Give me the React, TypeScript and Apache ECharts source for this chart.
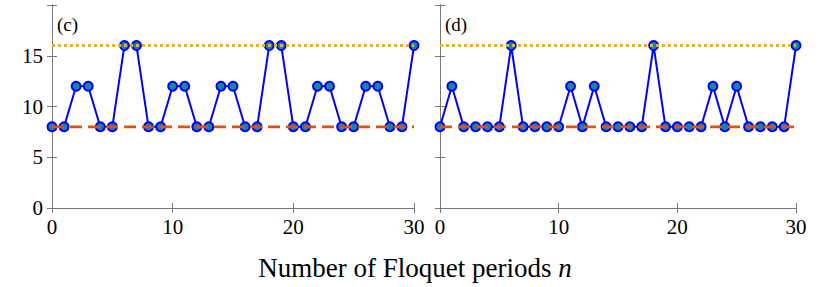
import React, { useEffect, useRef } from "react";
import * as echarts from "echarts";

const nValues = Array.from({ length: 31 }, (_, i) => i);
const seriesC = [8, 8, 12, 12, 8, 8, 16, 16, 8, 8, 12, 12, 8, 8, 12, 12, 8, 8, 16, 16, 8, 8, 12, 12, 8, 8, 12, 12, 8, 8, 16];
const seriesD = [8, 12, 8, 8, 8, 8, 16, 8, 8, 8, 8, 12, 8, 12, 8, 8, 8, 8, 16, 8, 8, 8, 8, 12, 8, 12, 8, 8, 8, 8, 16];
const lowerRef = 8;
const upperRef = 16;
const xTicks = [0, 10, 20, 30];
const yTicks = [0, 5, 10, 15];
const panelLabels = ["(c)", "(d)"];

const FONT = "Liberation Serif";
const AXIS_COLOR = "#777777";

export default function App() {
  const ref = useRef<HTMLDivElement>(null);
  useEffect(() => {
    if (!ref.current) return;
    const chart = echarts.init(ref.current, undefined, { renderer: "svg" });
    const grids = [
      { left: 52, top: 5, width: 362, height: 203 },
      { left: 440, top: 5, width: 356, height: 203 },
    ];
    const xAxes: any[] = [];
    const yAxes: any[] = [];
    grids.forEach((_, gi) => {
      xAxes.push({
        type: "value",
        gridIndex: gi,
        min: xTicks[0],
        max: xTicks[xTicks.length - 1],
        interval: 10,
        position: "bottom",
        axisLine: { show: true, lineStyle: { color: AXIS_COLOR, width: 1 } },
        axisTick: { show: true, inside: true, length: 5, lineStyle: { color: AXIS_COLOR } },
        splitLine: { show: false },
        axisLabel: { color: "#000", fontSize: 21, fontFamily: FONT, margin: 8 },
      });
      xAxes.push({
        type: "value",
        gridIndex: gi,
        min: xTicks[0],
        max: xTicks[xTicks.length - 1],
        interval: 10,
        position: "top",
        axisLine: { show: true, lineStyle: { color: AXIS_COLOR, width: 1 } },
        axisTick: { show: true, inside: true, length: 5, lineStyle: { color: AXIS_COLOR } },
        splitLine: { show: false },
        axisLabel: { show: false },
      });
      yAxes.push({
        type: "value",
        gridIndex: gi,
        min: 0,
        max: 20,
        interval: 5,
        position: "left",
        axisLine: { show: true, lineStyle: { color: AXIS_COLOR, width: 1 } },
        axisTick: { show: true, inside: true, length: 5, lineStyle: { color: AXIS_COLOR } },
        splitLine: { show: false },
        axisLabel: {
          show: gi === 0,
          color: "#000",
          fontSize: 21,
          fontFamily: FONT,
          margin: 9,
          formatter: (v: number) => (yTicks.includes(v) ? String(v) : ""),
        },
      });
      yAxes.push({
        type: "value",
        gridIndex: gi,
        min: 0,
        max: 20,
        interval: 5,
        position: "right",
        axisLine: { show: true, lineStyle: { color: AXIS_COLOR, width: 1 } },
        axisTick: { show: true, inside: true, length: 5, lineStyle: { color: AXIS_COLOR } },
        splitLine: { show: false },
        axisLabel: { show: false },
      });
    });

    const mainSeries = (data: number[], gi: number) => ({
      type: "line",
      xAxisIndex: gi * 2,
      yAxisIndex: gi * 2,
      data: nValues.map((n, i) => [n, data[i]]),
      symbol: "circle",
      symbolSize: 9,
      clip: false,
      lineStyle: { color: "#0000ff", width: 2 },
      itemStyle: { color: "#15879c", borderColor: "#0000ff", borderWidth: 2 },
      z: 2,
    });
    const refSeries = (y: number, gi: number, color: string, dash: number[], width: number) => ({
      type: "line",
      xAxisIndex: gi * 2,
      yAxisIndex: gi * 2,
      data: [
        [xTicks[0], y],
        [xTicks[xTicks.length - 1], y],
      ],
      symbol: "none",
      lineStyle: { color, width, type: dash },
      z: 3,
    });

    const series: any[] = [];
    [seriesC, seriesD].forEach((d, gi) => {
      series.push(mainSeries(d, gi));
      series.push(refSeries(lowerRef, gi, "#D95319", [12, 6], 2.8));
      series.push(refSeries(upperRef, gi, "#EDB120", [3, 3], 3));
    });

    chart.setOption({
      animation: false,
      grid: grids.map((g) => ({ ...g, show: false })),
      xAxis: xAxes,
      yAxis: yAxes,
      series,
      graphic: [
        {
          type: "text",
          left: 57,
          top: 15,
          style: { text: panelLabels[0], fontSize: 19, fontFamily: FONT, fill: "#000" },
        },
        {
          type: "text",
          left: 445,
          top: 15,
          style: { text: panelLabels[1], fontSize: 19, fontFamily: FONT, fill: "#000" },
        },
        {
          type: "text",
          x: 415,
          y: 268,
          style: {
            text: "{a|Number of Floquet periods }{i|n}",
            align: "center",
            verticalAlign: "middle",
            rich: {
              a: { fontSize: 27, fontFamily: FONT, color: "#000" },
              i: { fontSize: 27, fontFamily: FONT, fontStyle: "italic", color: "#000" },
            },
          },
        },
      ],
    });
    return () => chart.dispose();
  }, []);
  return (
    <div
      ref={ref}
      style={{ position: "fixed", left: 0, top: 0, width: 830, height: 287, background: "#fff" }}
    />
  );
}
